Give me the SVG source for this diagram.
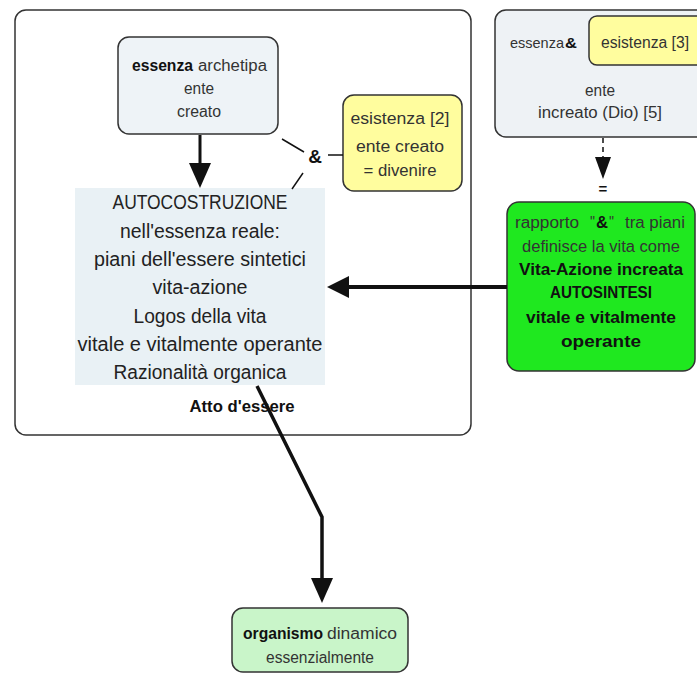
<svg xmlns="http://www.w3.org/2000/svg" width="697" height="675" viewBox="0 0 697 675">
<style>
text{font-family:"Liberation Sans","DejaVu Sans",sans-serif;fill:#333;text-anchor:middle;font-size:16px}
.s{text-anchor:start}
.b{font-weight:bold;fill:#111}
.big{font-size:20px;fill:#222}
.box{stroke:#333;stroke-width:1.5}
.con{stroke:#111;fill:none}
.hd{fill:#111}
</style>
<rect width="697" height="675" fill="#fff"/>
<g id="outer"><rect class="box" x="15" y="10" width="456" height="425" rx="11" fill="#fff"/></g>
<g id="essenza">
<rect class="box" x="118" y="37" width="160" height="97" rx="11" fill="#eef3f7"/>
<text class="s b" x="132" y="71" textLength="61" lengthAdjust="spacingAndGlyphs">essenza</text>
<text class="s" x="198" y="71" textLength="69" lengthAdjust="spacingAndGlyphs">archetipa</text>
<text x="199" y="94" textLength="30" lengthAdjust="spacingAndGlyphs">ente</text>
<text x="199" y="117" textLength="44" lengthAdjust="spacingAndGlyphs">creato</text>
</g>
<g id="esistenza2">
<rect class="box" x="343" y="95" width="119" height="96" rx="11" fill="#fffd9e"/>
<text x="400" y="124" textLength="99" lengthAdjust="spacingAndGlyphs">esistenza [2]</text>
<text x="400" y="152" textLength="88" lengthAdjust="spacingAndGlyphs">ente creato</text>
<text x="400" y="176" textLength="73" lengthAdjust="spacingAndGlyphs">= divenire</text>
</g>
<g id="amp"><text class="b" x="315" y="163" style="font-size:19px">&amp;</text></g>
<g id="autocostruzione">
<rect x="75" y="188" width="250" height="197" fill="#e9f1f5"/>
<text class="big" x="200" y="209" textLength="175" lengthAdjust="spacingAndGlyphs">AUTOCOSTRUZIONE</text>
<text class="big" x="200" y="238" textLength="160" lengthAdjust="spacingAndGlyphs">nell'essenza reale:</text>
<text class="big" x="200" y="266" textLength="212" lengthAdjust="spacingAndGlyphs">piani dell'essere sintetici</text>
<text class="big" x="200" y="294" textLength="95" lengthAdjust="spacingAndGlyphs">vita-azione</text>
<text class="big" x="200" y="323" textLength="133" lengthAdjust="spacingAndGlyphs">Logos della vita</text>
<text class="big" x="200" y="351" textLength="245" lengthAdjust="spacingAndGlyphs">vitale e vitalmente operante</text>
<text class="big" x="200" y="379" textLength="173" lengthAdjust="spacingAndGlyphs">Razionalità organica</text>
</g>
<g id="atto"><text class="b" x="242" y="412" textLength="105" lengthAdjust="spacingAndGlyphs">Atto d'essere</text></g>
<g id="dio">
<rect class="box" x="495" y="10" width="220" height="127" rx="11" fill="#eef2f5"/>
<text class="s" x="510" y="48" style="font-size:15px" textLength="54" lengthAdjust="spacingAndGlyphs">essenza</text>
<text class="s b" x="565" y="48" style="font-size:15px" textLength="12" lengthAdjust="spacingAndGlyphs">&amp;</text>
<rect class="box" x="589" y="16" width="120" height="49" rx="8" fill="#fffd9e"/>
<text class="s" x="601" y="48" textLength="88" lengthAdjust="spacingAndGlyphs">esistenza [3]</text>
<text x="600" y="96" textLength="30" lengthAdjust="spacingAndGlyphs">ente</text>
<text x="600" y="118" textLength="124" lengthAdjust="spacingAndGlyphs">increato (Dio) [5]</text>
</g>
<g id="rapporto">
<rect class="box" x="507" y="202" width="188" height="169" rx="12" fill="#1fe81f"/>
<text class="s" x="515" y="228" textLength="64" lengthAdjust="spacingAndGlyphs">rapporto</text>
<text class="s" x="590" y="228" textLength="5" lengthAdjust="spacingAndGlyphs">"</text>
<text class="s b" x="596" y="228" textLength="12" lengthAdjust="spacingAndGlyphs">&amp;</text>
<text class="s" x="609" y="228" textLength="5" lengthAdjust="spacingAndGlyphs">"</text>
<text class="s" x="625" y="228" textLength="60" lengthAdjust="spacingAndGlyphs">tra piani</text>
<text x="601" y="252" textLength="158" lengthAdjust="spacingAndGlyphs">definisce la vita come</text>
<text class="b" x="601" y="275" textLength="164" lengthAdjust="spacingAndGlyphs">Vita-Azione increata</text>
<text class="b" x="601" y="298" textLength="102" lengthAdjust="spacingAndGlyphs">AUTOSINTESI</text>
<text class="b" x="601" y="323" textLength="150" lengthAdjust="spacingAndGlyphs">vitale e vitalmente</text>
<text class="b" x="601" y="347" textLength="80" lengthAdjust="spacingAndGlyphs">operante</text>
</g>
<g id="organismo">
<rect class="box" x="232" y="608" width="176" height="64" rx="11" fill="#c9f5c9"/>
<text class="s b" x="243" y="639" textLength="80" lengthAdjust="spacingAndGlyphs">organismo</text>
<text class="s" x="327" y="639" textLength="70" lengthAdjust="spacingAndGlyphs">dinamico</text>
<text x="320" y="663" textLength="108" lengthAdjust="spacingAndGlyphs">essenzialmente</text>
</g>
<g id="connectors">
<line class="con" x1="200" y1="135" x2="200" y2="165" stroke-width="3"/>
<polygon class="hd" points="189,163 211,163 200,188"/>
<line class="con" x1="282" y1="139" x2="304" y2="152" stroke-width="1.5"/>
<line class="con" x1="328" y1="155" x2="343" y2="155" stroke-width="1.5"/>
<line class="con" x1="303" y1="173" x2="292" y2="189" stroke-width="1.5"/>
<line class="con" x1="507" y1="287" x2="346" y2="287" stroke-width="4"/>
<polygon class="hd" points="349,276 349,298 327,287"/>
<polyline class="con" points="257,386 322,517 322,580" stroke-width="3.5"/>
<polygon class="hd" points="311,578 333,578 322,603"/>
<line class="con" x1="603" y1="138" x2="603" y2="158" stroke-width="1.5" stroke-dasharray="5,4"/>
<polygon class="hd" points="595,157 611,157 603,179"/>
<text class="b" x="603" y="194" style="font-size:15px">=</text>
</g>
</svg>
